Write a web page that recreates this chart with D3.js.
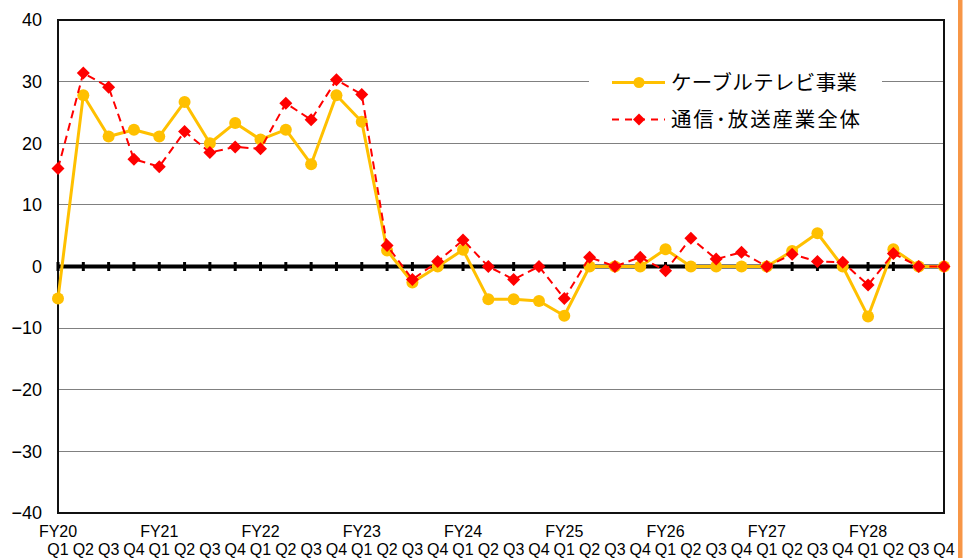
<!DOCTYPE html>
<html><head><meta charset="utf-8">
<script src="https://cdn.jsdelivr.net/npm/d3@7"></script>
<style>body{margin:0;background:#fff}svg{display:block}</style>
</head><body>
<svg id="c" width="965" height="558"></svg>
<script>
const years = ["FY20","FY21","FY22","FY23","FY24","FY25","FY26","FY27","FY28"];
const quarters = ["Q1","Q2","Q3","Q4"];
const cableTV = [-5.2,27.8,21.1,22.2,21.1,26.7,20.0,23.3,20.6,22.2,16.6,27.8,
  23.5,2.6,-2.6,0,2.7,-5.3,-5.3,-5.6,-8.0,0,0,0,
  2.8,0,0,0,0,2.5,5.4,0,-8.1,2.8,0,0];
const industry = [15.9,31.4,29.1,17.4,16.2,21.9,18.5,19.4,19.1,26.5,23.8,30.3,
  27.9,3.4,-2.1,0.8,4.3,0,-2.1,0,-5.2,1.5,0,1.5,
  -0.7,4.6,1.2,2.3,0,2.0,0.8,0.7,-3.0,2.1,0,0];
const yTicks = [-40,-30,-20,-10,0,10,20,30,40];
const seriesNames = ["ケーブルテレビ事業","通信\uFF65放送産業全体"];

const cats = [];
years.forEach(y => quarters.forEach(q => cats.push(y + "-" + q)));

const svg = d3.select("#c");
const L = 58, R = 944, T = 20, B = 513;
const x = d3.scalePoint().domain(cats).range([L, R]).padding(0);
const y = d3.scaleLinear().domain([-40, 40]).range([B, T]);

// orange side bar
svg.append("rect").attr("x", 958).attr("y", 0).attr("width", 4.5).attr("height", 558).attr("fill", "#F79646");

// gridlines
svg.append("g").selectAll("line").data(yTicks.filter(v => v !== 0 && Math.abs(v) !== 40)).join("line")
  .attr("x1", L).attr("x2", R).attr("y1", d => y(d)).attr("y2", d => y(d))
  .attr("stroke", "#808080").attr("stroke-width", 1).attr("shape-rendering", "crispEdges");

// plot border
svg.append("rect").attr("x", L).attr("y", T).attr("width", R - L).attr("height", B - T)
  .attr("fill", "none").attr("stroke", "#111").attr("stroke-width", 2);

// y axis labels
const yAxis = d3.axisLeft(y).tickValues(yTicks).tickSize(0).tickPadding(16)
  .tickFormat(d => d < 0 ? "\u2212" + Math.abs(d) : String(d));
const ga = svg.append("g").attr("transform", `translate(${L},0)`).call(yAxis);
ga.select(".domain").remove();
ga.selectAll("text").attr("font-family", "Liberation Sans, Arial, sans-serif")
  .attr("font-size", 18).attr("fill", "#000");

// x labels
const gx = svg.append("g");
gx.selectAll("text.q").data(cats).join("text").attr("class", "q")
  .attr("x", d => x(d)).attr("y", 555).attr("text-anchor", "middle")
  .attr("font-family", "Liberation Sans, Arial, sans-serif").attr("font-size", 16)
  .text(d => d.split("-")[1]);
gx.selectAll("text.fy").data(years).join("text").attr("class", "fy")
  .attr("x", d => x(d + "-Q1")).attr("y", 537).attr("text-anchor", "middle")
  .attr("font-family", "Liberation Sans, Arial, sans-serif").attr("font-size", 16)
  .text(d => d);

// legend box (white) covering gridline
const lg = svg.append("g");
lg.append("rect").attr("x", 589).attr("y", 58).attr("width", 293).attr("height", 80).attr("fill", "#fff");

// zero line with tick marks
svg.append("line").attr("x1", L).attr("x2", R).attr("y1", y(0)).attr("y2", y(0))
  .attr("stroke", "#000").attr("stroke-width", 4);
svg.append("g").selectAll("line").data(cats).join("line")
  .attr("x1", d => x(d)).attr("x2", d => x(d)).attr("y1", y(0) - 4.5).attr("y2", y(0) + 4.5)
  .attr("stroke", "#000").attr("stroke-width", 3);

const line = d3.line().x((d, i) => x(cats[i])).y(d => y(d));
const diamond = (cx, cy, r) => `M${cx},${cy - r}L${cx + r},${cy}L${cx},${cy + r}L${cx - r},${cy}Z`;

// cable TV series
svg.append("path").datum(cableTV).attr("d", line).attr("fill", "none")
  .attr("stroke", "#FFC000").attr("stroke-width", 3).attr("stroke-linejoin", "round");
svg.append("g").selectAll("circle").data(cableTV).join("circle")
  .attr("cx", (d, i) => x(cats[i])).attr("cy", d => y(d)).attr("r", 6).attr("fill", "#FFC000");

// industry series
svg.append("path").datum(industry).attr("d", line).attr("fill", "none")
  .attr("stroke", "#FF0000").attr("stroke-width", 2).attr("stroke-dasharray", "8,5");
svg.append("g").selectAll("path").data(industry).join("path")
  .attr("d", (d, i) => diamond(x(cats[i]), y(d), 6.5)).attr("fill", "#FF0000");

// legend entries
const ly = [82.5, 119.5];
const lw = [186, 189];
lg.append("line").attr("x1", 612).attr("x2", 665).attr("y1", ly[0]).attr("y2", ly[0])
  .attr("stroke", "#FFC000").attr("stroke-width", 3);
lg.append("circle").attr("cx", 639).attr("cy", ly[0]).attr("r", 5.5).attr("fill", "#FFC000");
lg.append("line").attr("x1", 612).attr("x2", 665).attr("y1", ly[1]).attr("y2", ly[1])
  .attr("stroke", "#FF0000").attr("stroke-width", 2).attr("stroke-dasharray", "7,6");
lg.append("path").attr("d", diamond(639, ly[1], 6)).attr("fill", "#FF0000");
lg.selectAll("text").data(seriesNames).join("text")
  .attr("x", 671).attr("y", (d, i) => ly[i] + 7.5)
  .attr("font-family", "Noto Sans CJK JP, sans-serif").attr("font-size", 20.5).attr("fill", "#000")
  .attr("textLength", (d, i) => lw[i]).attr("lengthAdjust", "spacing")
  .text(d => d);
</script>
</body></html>
